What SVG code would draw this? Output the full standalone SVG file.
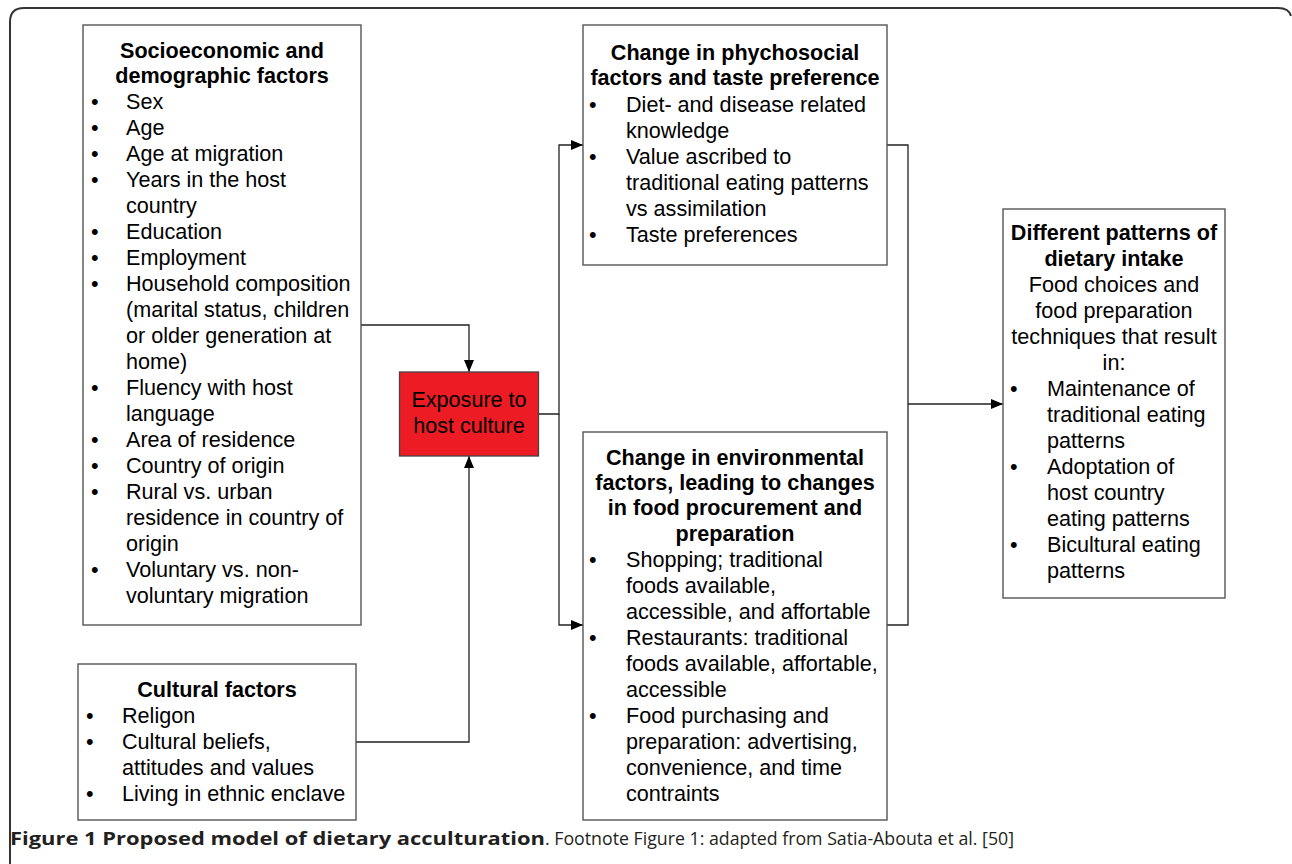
<svg xmlns="http://www.w3.org/2000/svg" width="1292" height="864" viewBox="0 0 1292 864">
<style>
.box{fill:#fff;stroke:#555;stroke-width:1.4}
.t{font-family:"Liberation Sans",Arial,sans-serif;font-size:21.6px;fill:#000}
.b{font-weight:bold}
.c{text-anchor:middle}
.ln{fill:none;stroke:#222;stroke-width:1.3}
.cap{font-family:"Open Sans","Liberation Sans",sans-serif;font-size:18px;fill:#231f20}
</style>
<defs>
<marker id="arr" viewBox="0 0 12 10" refX="12" refY="5" markerWidth="12" markerHeight="10" markerUnits="userSpaceOnUse" orient="auto">
<path d="M0,0 L12,5 L0,10 Z" fill="#000"/>
</marker>
</defs>
<rect width="1292" height="864" fill="#fff"/>
<path d="M10,864 V22 Q10,8 24,8 H1278 Q1289,8 1291,16" fill="none" stroke="#333" stroke-width="2"/>

<g id="connectors">
<path class="ln" d="M361,325 H469 V372" marker-end="url(#arr)"/>
<path class="ln" d="M356,742 H469 V456" marker-end="url(#arr)"/>
<path class="ln" d="M539,414 H559 V145 H583" marker-end="url(#arr)"/>
<path class="ln" d="M559,414 V625 H583" marker-end="url(#arr)"/>
<path class="ln" d="M887,145 H908 V625 H887"/>
<path class="ln" d="M908,404 H1003" marker-end="url(#arr)"/>
</g>

<g id="socioeconomic">
<rect class="box" x="83" y="25" width="278" height="600"/>
<text class="t b c" x="222" y="58">Socioeconomic and</text>
<text class="t b c" x="222" y="83">demographic factors</text>
<g class="t">
<text x="91" y="109">•</text><text x="126" y="109">Sex</text>
<text x="91" y="135">•</text><text x="126" y="135">Age</text>
<text x="91" y="161">•</text><text x="126" y="161">Age at migration</text>
<text x="91" y="187">•</text><text x="126" y="187">Years in the host</text>
<text x="126" y="213">country</text>
<text x="91" y="239">•</text><text x="126" y="239">Education</text>
<text x="91" y="265">•</text><text x="126" y="265">Employment</text>
<text x="91" y="291">•</text><text x="126" y="291">Household composition</text>
<text x="126" y="317">(marital status, children</text>
<text x="126" y="343">or older generation at</text>
<text x="126" y="369">home)</text>
<text x="91" y="395">•</text><text x="126" y="395">Fluency with host</text>
<text x="126" y="421">language</text>
<text x="91" y="447">•</text><text x="126" y="447">Area of residence</text>
<text x="91" y="473">•</text><text x="126" y="473">Country of origin</text>
<text x="91" y="499">•</text><text x="126" y="499">Rural vs. urban</text>
<text x="126" y="525">residence in country of</text>
<text x="126" y="551">origin</text>
<text x="91" y="577">•</text><text x="126" y="577">Voluntary vs. non-</text>
<text x="126" y="603">voluntary migration</text>
</g>
</g>

<g id="cultural">
<rect class="box" x="78" y="664" width="278" height="156"/>
<text class="t b c" x="217" y="697">Cultural factors</text>
<g class="t">
<text x="86" y="723">•</text><text x="122" y="723">Religon</text>
<text x="86" y="749">•</text><text x="122" y="749">Cultural beliefs,</text>
<text x="122" y="775">attitudes and values</text>
<text x="86" y="801">•</text><text x="122" y="801">Living in ethnic enclave</text>
</g>
</g>

<g id="exposure">
<rect x="399.5" y="372" width="139" height="84" fill="#ed1c24" stroke="#444" stroke-width="1.3"/>
<text class="t c" x="469" y="407">Exposure to</text>
<text class="t c" x="469" y="433">host culture</text>
</g>

<g id="psychosocial">
<rect class="box" x="583" y="25" width="304" height="240"/>
<text class="t b c" x="735" y="60">Change in phychosocial</text>
<text class="t b c" x="735" y="85">factors and taste preference</text>
<g class="t">
<text x="589" y="112">•</text><text x="626" y="112">Diet- and disease related</text>
<text x="626" y="138">knowledge</text>
<text x="589" y="164">•</text><text x="626" y="164">Value ascribed to</text>
<text x="626" y="190">traditional eating patterns</text>
<text x="626" y="216">vs assimilation</text>
<text x="589" y="242">•</text><text x="626" y="242">Taste preferences</text>
</g>
</g>

<g id="environmental">
<rect class="box" x="583" y="432" width="304" height="388"/>
<text class="t b c" x="735" y="465">Change in environmental</text>
<text class="t b c" x="735" y="490">factors, leading to changes</text>
<text class="t b c" x="735" y="515">in food procurement and</text>
<text class="t b c" x="735" y="541">preparation</text>
<g class="t">
<text x="589" y="567">•</text><text x="626" y="567">Shopping; traditional</text>
<text x="626" y="593">foods available,</text>
<text x="626" y="619">accessible, and affortable</text>
<text x="589" y="645">•</text><text x="626" y="645">Restaurants: traditional</text>
<text x="626" y="671">foods available, affortable,</text>
<text x="626" y="697">accessible</text>
<text x="589" y="723">•</text><text x="626" y="723">Food purchasing and</text>
<text x="626" y="749">preparation: advertising,</text>
<text x="626" y="775">convenience, and time</text>
<text x="626" y="801">contraints</text>
</g>
</g>

<g id="dietary">
<rect class="box" x="1003" y="209" width="222" height="389"/>
<text class="t b c" x="1114" y="240">Different patterns of</text>
<text class="t b c" x="1114" y="266">dietary intake</text>
<text class="t c" x="1114" y="292">Food choices and</text>
<text class="t c" x="1114" y="318">food preparation</text>
<text class="t c" x="1114" y="344">techniques that result</text>
<text class="t c" x="1114" y="370">in:</text>
<g class="t">
<text x="1010" y="396">•</text><text x="1047" y="396">Maintenance of</text>
<text x="1047" y="422">traditional eating</text>
<text x="1047" y="448">patterns</text>
<text x="1010" y="474">•</text><text x="1047" y="474">Adoptation of</text>
<text x="1047" y="500">host country</text>
<text x="1047" y="526">eating patterns</text>
<text x="1010" y="552">•</text><text x="1047" y="552">Bicultural eating</text>
<text x="1047" y="578">patterns</text>
</g>
</g>

<text class="cap" x="10" y="845" font-weight="bold" textLength="535" lengthAdjust="spacingAndGlyphs">Figure 1 Proposed model of dietary acculturation</text>
<text class="cap" x="545" y="845" textLength="469" lengthAdjust="spacingAndGlyphs">. Footnote Figure 1: adapted from Satia-Abouta et al. [50]</text>
</svg>
